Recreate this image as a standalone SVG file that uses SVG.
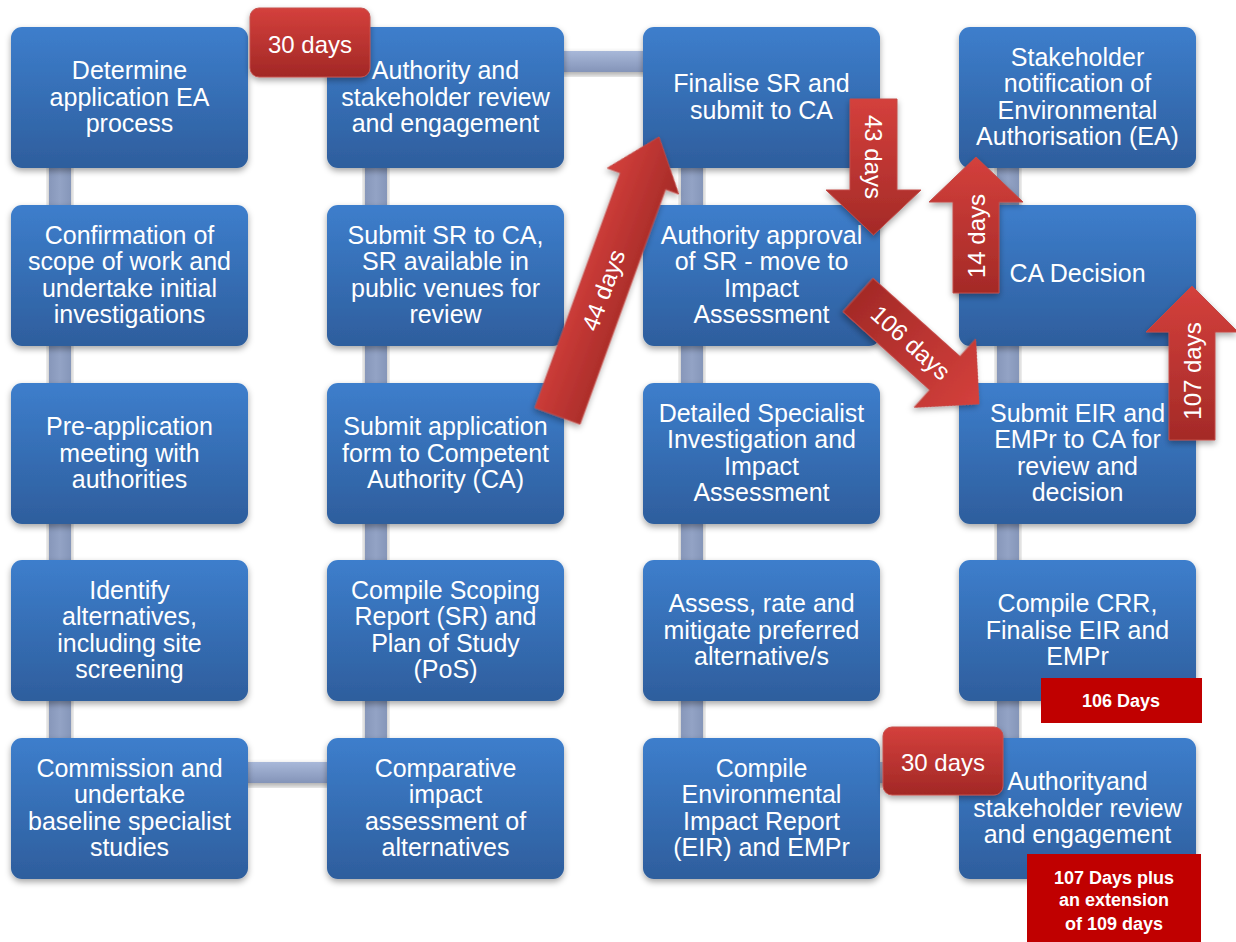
<svg xmlns="http://www.w3.org/2000/svg" width="1236" height="942" viewBox="0 0 1236 942">
<defs>
<linearGradient id="boxGrad" x1="0" y1="0" x2="0" y2="1">
<stop offset="0" stop-color="#3d7ecc"/>
<stop offset="1" stop-color="#2e5e9d"/>
</linearGradient>
<linearGradient id="vbarGrad" x1="0" y1="0" x2="1" y2="0">
<stop offset="0" stop-color="#8797ba"/>
<stop offset="0.5" stop-color="#93a3c5"/>
<stop offset="1" stop-color="#8596b9"/>
</linearGradient>
<linearGradient id="hbarGrad" x1="0" y1="0" x2="0" y2="1">
<stop offset="0" stop-color="#a8b8d9"/>
<stop offset="1" stop-color="#8494b8"/>
</linearGradient>
<linearGradient id="badgeGrad" x1="0" y1="0" x2="0" y2="1">
<stop offset="0" stop-color="#d4403c"/>
<stop offset="1" stop-color="#a22826"/>
</linearGradient>
<linearGradient id="arrowV" x1="0" y1="0" x2="0" y2="1">
<stop offset="0" stop-color="#d4403c"/>
<stop offset="1" stop-color="#a42a27"/>
</linearGradient>
<linearGradient id="arrowH" x1="0" y1="0" x2="1" y2="0">
<stop offset="0" stop-color="#d4403c"/>
<stop offset="1" stop-color="#a42a27"/>
</linearGradient>
<linearGradient id="arrowHrev" x1="0" y1="0" x2="1" y2="0">
<stop offset="0" stop-color="#a42a27"/>
<stop offset="1" stop-color="#d4403c"/>
</linearGradient>
<filter id="shadow" x="-10%" y="-10%" width="120%" height="130%">
<feDropShadow dx="0" dy="3" stdDeviation="3" flood-color="#000" flood-opacity="0.35"/>
</filter>
</defs>
<style>
.box{fill:url(#boxGrad);filter:url(#shadow);}
.lbl{font-family:"Liberation Sans",Arial,sans-serif;font-size:25px;fill:#fff;text-anchor:middle;}
.tag{font-family:"Liberation Sans",Arial,sans-serif;font-size:24px;fill:#fff;text-anchor:middle;}
.vbar{fill:url(#vbarGrad);filter:url(#shadow);}
.hbar{fill:url(#hbarGrad);filter:url(#shadow);}
.badge{fill:url(#badgeGrad);stroke:#c4504c;stroke-width:1;filter:url(#shadow);}
.arrow{stroke:#c24a46;stroke-width:1;filter:url(#shadow);}
.note{fill:#c00000;}
.ntxt{font-family:"Liberation Sans",Arial,sans-serif;font-size:18px;font-weight:bold;fill:#fff;text-anchor:middle;}
</style>
<rect width="1236" height="942" fill="#fff"/>
<g id="connectors">
<rect class="vbar" x="49" y="100" width="22" height="700"/>
<rect class="vbar" x="365" y="100" width="22" height="700"/>
<rect class="vbar" x="681" y="100" width="22" height="700"/>
<rect class="vbar" x="997" y="100" width="22" height="700"/>
<rect class="hbar" x="560" y="51" width="88" height="21"/>
<rect class="hbar" x="244" y="762" width="88" height="21"/>
<rect class="hbar" x="876" y="762" width="88" height="21"/>
</g>
<g id="n1"><rect class="box" x="11" y="27" width="237" height="141" rx="11"/>
<text class="lbl"><tspan x="129.5" y="79.2">Determine</tspan><tspan x="129.5" y="105.6">application EA</tspan><tspan x="129.5" y="132">process</tspan></text></g>
<g id="n2"><rect class="box" x="11" y="205" width="237" height="141" rx="11"/>
<text class="lbl"><tspan x="129.5" y="244">Confirmation of</tspan><tspan x="129.5" y="270.4">scope of work and</tspan><tspan x="129.5" y="296.8">undertake initial</tspan><tspan x="129.5" y="323.2">investigations</tspan></text></g>
<g id="n3"><rect class="box" x="11" y="383" width="237" height="141" rx="11"/>
<text class="lbl"><tspan x="129.5" y="435.2">Pre-application</tspan><tspan x="129.5" y="461.6">meeting with</tspan><tspan x="129.5" y="488">authorities</tspan></text></g>
<g id="n4"><rect class="box" x="11" y="560" width="237" height="141" rx="11"/>
<text class="lbl"><tspan x="129.5" y="599">Identify</tspan><tspan x="129.5" y="625.4">alternatives,</tspan><tspan x="129.5" y="651.8">including site</tspan><tspan x="129.5" y="678.2">screening</tspan></text></g>
<g id="n5"><rect class="box" x="11" y="738" width="237" height="141" rx="11"/>
<text class="lbl"><tspan x="129.5" y="777">Commission and</tspan><tspan x="129.5" y="803.4">undertake</tspan><tspan x="129.5" y="829.8">baseline specialist</tspan><tspan x="129.5" y="856.2">studies</tspan></text></g>
<g id="n6"><rect class="box" x="327" y="738" width="237" height="141" rx="11"/>
<text class="lbl"><tspan x="445.5" y="777">Comparative</tspan><tspan x="445.5" y="803.4">impact</tspan><tspan x="445.5" y="829.8">assessment of</tspan><tspan x="445.5" y="856.2">alternatives</tspan></text></g>
<g id="n7"><rect class="box" x="327" y="560" width="237" height="141" rx="11"/>
<text class="lbl"><tspan x="445.5" y="599">Compile Scoping</tspan><tspan x="445.5" y="625.4">Report (SR) and</tspan><tspan x="445.5" y="651.8">Plan of Study</tspan><tspan x="445.5" y="678.2">(PoS)</tspan></text></g>
<g id="n8"><rect class="box" x="327" y="383" width="237" height="141" rx="11"/>
<text class="lbl"><tspan x="445.5" y="435.2">Submit application</tspan><tspan x="445.5" y="461.6">form to Competent</tspan><tspan x="445.5" y="488">Authority (CA)</tspan></text></g>
<g id="n9"><rect class="box" x="327" y="205" width="237" height="141" rx="11"/>
<text class="lbl"><tspan x="445.5" y="244">Submit SR to CA,</tspan><tspan x="445.5" y="270.4">SR available in</tspan><tspan x="445.5" y="296.8">public venues for</tspan><tspan x="445.5" y="323.2">review</tspan></text></g>
<g id="n10"><rect class="box" x="327" y="27" width="237" height="141" rx="11"/>
<text class="lbl"><tspan x="445.5" y="79.2">Authority and</tspan><tspan x="445.5" y="105.6">stakeholder review</tspan><tspan x="445.5" y="132">and engagement</tspan></text></g>
<g id="n11"><rect class="box" x="643" y="27" width="237" height="141" rx="11"/>
<text class="lbl"><tspan x="761.5" y="92.4">Finalise SR and</tspan><tspan x="761.5" y="118.8">submit to CA</tspan></text></g>
<g id="n12"><rect class="box" x="643" y="205" width="237" height="141" rx="11"/>
<text class="lbl"><tspan x="761.5" y="244">Authority approval</tspan><tspan x="761.5" y="270.4">of SR - move to</tspan><tspan x="761.5" y="296.8">Impact</tspan><tspan x="761.5" y="323.2">Assessment</tspan></text></g>
<g id="n13"><rect class="box" x="643" y="383" width="237" height="141" rx="11"/>
<text class="lbl"><tspan x="761.5" y="422">Detailed Specialist</tspan><tspan x="761.5" y="448.4">Investigation and</tspan><tspan x="761.5" y="474.8">Impact</tspan><tspan x="761.5" y="501.2">Assessment</tspan></text></g>
<g id="n14"><rect class="box" x="643" y="560" width="237" height="141" rx="11"/>
<text class="lbl"><tspan x="761.5" y="612.2">Assess, rate and</tspan><tspan x="761.5" y="638.6">mitigate preferred</tspan><tspan x="761.5" y="665">alternative/s</tspan></text></g>
<g id="n15"><rect class="box" x="643" y="738" width="237" height="141" rx="11"/>
<text class="lbl"><tspan x="761.5" y="777">Compile</tspan><tspan x="761.5" y="803.4">Environmental</tspan><tspan x="761.5" y="829.8">Impact Report</tspan><tspan x="761.5" y="856.2">(EIR) and EMPr</tspan></text></g>
<g id="n16"><rect class="box" x="959" y="738" width="237" height="141" rx="11"/>
<text class="lbl"><tspan x="1077.5" y="790.2">Authorityand</tspan><tspan x="1077.5" y="816.6">stakeholder review</tspan><tspan x="1077.5" y="843">and engagement</tspan></text></g>
<g id="n17"><rect class="box" x="959" y="560" width="237" height="141" rx="11"/>
<text class="lbl"><tspan x="1077.5" y="612.2">Compile CRR,</tspan><tspan x="1077.5" y="638.6">Finalise EIR and</tspan><tspan x="1077.5" y="665">EMPr</tspan></text></g>
<g id="n18"><rect class="box" x="959" y="383" width="237" height="141" rx="11"/>
<text class="lbl"><tspan x="1077.5" y="422">Submit EIR and</tspan><tspan x="1077.5" y="448.4">EMPr to CA for</tspan><tspan x="1077.5" y="474.8">review and</tspan><tspan x="1077.5" y="501.2">decision</tspan></text></g>
<g id="n19"><rect class="box" x="959" y="205" width="237" height="141" rx="11"/>
<text class="lbl"><tspan x="1077.5" y="281.5">CA Decision</tspan></text></g>
<g id="n20"><rect class="box" x="959" y="27" width="237" height="141" rx="11"/>
<text class="lbl"><tspan x="1077.5" y="66">Stakeholder</tspan><tspan x="1077.5" y="92.4">notification of</tspan><tspan x="1077.5" y="118.8">Environmental</tspan><tspan x="1077.5" y="145.2">Authorisation (EA)</tspan></text></g>
<g id="badge1"><rect class="badge" x="250" y="8" width="120" height="69" rx="9"/>
<text class="tag" x="310" y="52.5">30 days</text></g>
<g id="badge2"><rect class="badge" x="883" y="727" width="120" height="68" rx="9"/>
<text class="tag" x="943" y="770.5">30 days</text></g>
<g id="arrow44" transform="translate(557.5,416) rotate(20)">
<path class="arrow" fill="url(#arrowH)" d="M-24,0 L-24,-250 L-38,-250 L0,-297 L38,-250 L24,-250 L24,0 Z"/>
<text class="tag" transform="translate(0,-134) rotate(-90)" dy="8.5">44 days</text></g>
<g id="arrow43">
<path class="arrow" fill="url(#arrowV)" d="M850,99 L897,99 L897,190 L921,190 L873.5,235 L826,190 L850,190 Z"/>
<text class="tag" transform="translate(873.5,157) rotate(90)" dy="8.5">43 days</text></g>
<g id="arrow106" transform="translate(858,295) rotate(42)">
<path class="arrow" fill="url(#arrowHrev)" d="M0,-22.5 L117,-22.5 L117,-46 L163,0 L117,46 L117,22.5 L0,22.5 Z"/>
<text class="tag" x="71" y="0" dy="8.5">106 days</text></g>
<g id="arrow14">
<path class="arrow" fill="url(#arrowV)" d="M953,293 L953,202 L929,202 L976,157 L1023,202 L999,202 L999,293 Z"/>
<text class="tag" transform="translate(976,236) rotate(-90)" dy="8.5">14 days</text></g>
<g id="arrow107">
<path class="arrow" fill="url(#arrowV)" d="M1169,440 L1169,332 L1146,332 L1192,286 L1238,332 L1215,332 L1215,440 Z"/>
<text class="tag" transform="translate(1192,371) rotate(-90)" dy="8.5">107 days</text></g>
<g id="note106"><rect class="note" x="1041" y="678" width="161" height="45"/>
<text class="ntxt" x="1121" y="707">106 Days</text></g>
<g id="note107"><rect class="note" x="1027" y="854" width="174" height="88"/>
<text class="ntxt"><tspan x="1114" y="883.5">107 Days plus</tspan><tspan x="1114" y="906">an extension</tspan><tspan x="1114" y="929.5">of 109 days</tspan></text></g>
</svg>
